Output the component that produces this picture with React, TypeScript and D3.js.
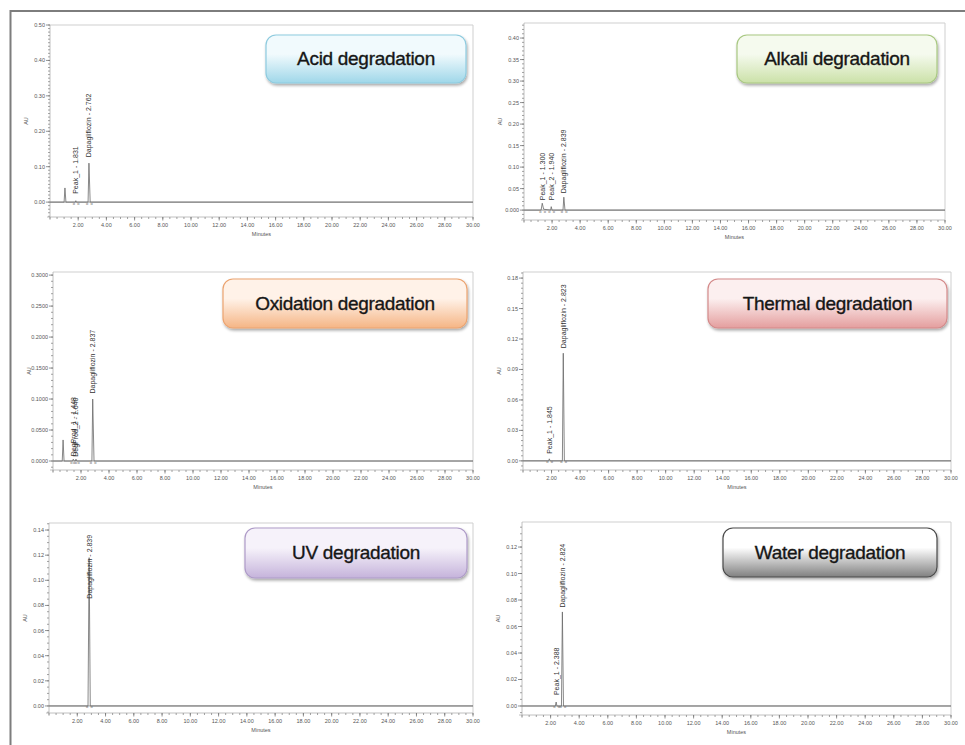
import React from "react";
import * as d3 from "d3";

// ---- Chromatogram data (time in minutes, response in AU) ----
const acidTrace: [number, number][] = [
  [0, 0], [1.0, 0], [1.06, 0.04], [1.13, 0], [1.80, 0], [1.831, 0.004], [1.87, 0],
  [2.70, 0], [2.762, 0.11], [2.85, 0], [30, 0],
];
const alkaliTrace: [number, number][] = [
  [0, 0], [1.22, 0], [1.30, 0.016], [1.40, 0.002], [1.90, 0], [1.94, 0.008], [2.0, 0],
  [2.78, 0], [2.839, 0.03], [2.92, 0], [30, 0],
];
const oxidationTrace: [number, number][] = [
  [0, 0], [0.66, 0], [0.72, 0.034], [0.79, 0], [1.40, 0], [1.448, 0.003], [1.52, 0],
  [1.60, 0], [1.64, 0.003], [1.70, 0], [2.78, 0], [2.837, 0.1], [2.93, 0], [30, 0],
];
const thermalTrace: [number, number][] = [
  [0, 0], [1.80, 0], [1.845, 0.002], [1.90, 0], [2.76, 0], [2.823, 0.106], [2.90, 0], [30, 0],
];
const uvTrace: [number, number][] = [
  [0, 0], [2.76, 0], [2.839, 0.118], [2.92, 0], [30, 0],
];
const waterTrace: [number, number][] = [
  [0, 0], [2.33, 0], [2.388, 0.003], [2.44, 0], [2.76, 0], [2.824, 0.071], [2.90, 0], [30, 0],
];

// Peak annotations: label, retention time, label base height (AU)
type Peak = { label: string; t: number; h: number };
const acidPeaks: Peak[] = [
  { label: "Peak_1 - 1.831", t: 1.831, h: 0.015 },
  { label: "Dapagliflozin - 2.762", t: 2.762, h: 0.118 },
];
const alkaliPeaks: Peak[] = [
  { label: "Peak_1 - 1.300", t: 1.3, h: 0.016 },
  { label: "Peak_2 - 1.940", t: 1.94, h: 0.016 },
  { label: "Dapagliflozin - 2.839", t: 2.839, h: 0.032 },
];
const oxidationPeaks: Peak[] = [
  { label: "DegProd_1 - 1.448", t: 1.448, h: 0.003 },
  { label: "DegProd_2 - 1.640", t: 1.64, h: 0.002 },
  { label: "Dapagliflozin - 2.837", t: 2.837, h: 0.104 },
];
const thermalPeaks: Peak[] = [
  { label: "Peak_1 - 1.845", t: 1.845, h: 0.004 },
  { label: "Dapagliflozin - 2.823", t: 2.823, h: 0.108 },
];
const uvPeaks: Peak[] = [
  { label: "Dapagliflozin - 2.839", t: 2.839, h: 0.083 },
];
const waterPeaks: Peak[] = [
  { label: "Peak_1 - 2.388", t: 2.388, h: 0.006 },
  { label: "Dapagliflozin - 2.824", t: 2.824, h: 0.072 },
];

// Axis ticks
const xTickValues = [2, 4, 6, 8, 10, 12, 14, 16, 18, 20, 22, 24, 26, 28, 30];
const acidYTicks = [0, 0.1, 0.2, 0.3, 0.4, 0.5];
const acidYLabels = ["0.00", "0.10", "0.20", "0.30", "0.40", "0.50"];
const alkaliYTicks = [0, 0.05, 0.1, 0.15, 0.2, 0.25, 0.3, 0.35, 0.4];
const alkaliYLabels = ["0.000", "0.05", "0.10", "0.15", "0.20", "0.25", "0.30", "0.35", "0.40"];
const oxidationYTicks = [0, 0.05, 0.1, 0.15, 0.2, 0.25, 0.3];
const oxidationYLabels = ["0.0000", "0.0500", "0.1000", "0.1500", "0.2000", "0.2500", "0.3000"];
const thermalYTicks = [0, 0.03, 0.06, 0.09, 0.12, 0.15, 0.18];
const thermalYLabels = ["0.00", "0.03", "0.06", "0.09", "0.12", "0.15", "0.18"];
const uvYTicks = [0, 0.02, 0.04, 0.06, 0.08, 0.1, 0.12, 0.14];
const uvYLabels = ["0.00", "0.02", "0.04", "0.06", "0.08", "0.10", "0.12", "0.14"];
const waterYTicks = [0, 0.02, 0.04, 0.06, 0.08, 0.1, 0.12];
const waterYLabels = ["0.00", "0.02", "0.04", "0.06", "0.08", "0.10", "0.12"];

const titles = [
  "Acid degradation",
  "Alkali degradation",
  "Oxidation degradation",
  "Thermal degradation",
  "UV degradation",
  "Water degradation",
];

// ---- Layout and styling ----
type Panel = {
  title: string;
  trace: [number, number][];
  peaks: Peak[];
  yTicks: number[];
  yLabels: string[];
  rect: { x: number; y: number; w: number; h: number };
  yDomain: [number, number];
  box: { x: number; y: number; w: number; h: number };
  colors: { top: string; bottom: string; stroke: string };
};

const panels: Panel[] = [
  {
    title: titles[0], trace: acidTrace, peaks: acidPeaks, yTicks: acidYTicks, yLabels: acidYLabels,
    rect: { x: 50, y: 25, w: 423, h: 192 }, yDomain: [-0.042, 0.5],
    box: { x: 266, y: 35, w: 200, h: 48 },
    colors: { top: "#f1fafd", bottom: "#9fd7e9", stroke: "#8ecbdf" },
  },
  {
    title: titles[1], trace: alkaliTrace, peaks: alkaliPeaks, yTicks: alkaliYTicks, yLabels: alkaliYLabels,
    rect: { x: 524, y: 23, w: 421, h: 197 }, yDomain: [-0.023, 0.435],
    box: { x: 737, y: 35, w: 200, h: 48 },
    colors: { top: "#f5faee", bottom: "#cbe1a8", stroke: "#a9c882" },
  },
  {
    title: titles[2], trace: oxidationTrace, peaks: oxidationPeaks, yTicks: oxidationYTicks, yLabels: oxidationYLabels,
    rect: { x: 53, y: 272, w: 420, h: 198 }, yDomain: [-0.0145, 0.305],
    box: { x: 223, y: 279, w: 244, h: 49 },
    colors: { top: "#fff2e8", bottom: "#f5b585", stroke: "#eca470" },
  },
  {
    title: titles[3], trace: thermalTrace, peaks: thermalPeaks, yTicks: thermalYTicks, yLabels: thermalYLabels,
    rect: { x: 523, y: 272, w: 428, h: 198 }, yDomain: [-0.009, 0.186],
    box: { x: 708, y: 279, w: 239, h: 49 },
    colors: { top: "#fcefef", bottom: "#e49e9e", stroke: "#d48a8a" },
  },
  {
    title: titles[4], trace: uvTrace, peaks: uvPeaks, yTicks: uvYTicks, yLabels: uvYLabels,
    rect: { x: 49, y: 523, w: 424, h: 190 }, yDomain: [-0.0056, 0.1456],
    box: { x: 245, y: 528, w: 222, h: 50 },
    colors: { top: "#f6f2fa", bottom: "#c5b3db", stroke: "#ae9bc8" },
  },
  {
    title: titles[5], trace: waterTrace, peaks: waterPeaks, yTicks: waterYTicks, yLabels: waterYLabels,
    rect: { x: 522, y: 522, w: 429, h: 193 }, yDomain: [-0.0068, 0.1389],
    box: { x: 723, y: 528, w: 214, h: 49 },
    colors: { top: "#ffffff", bottom: "#808080", stroke: "#4a4a4a" },
  },
];

const FONT = "'Liberation Sans', Arial, sans-serif";

function Chromatogram({ p, i }: { p: Panel; i: number }) {
  const { x, y, w, h } = p.rect;
  const xs = d3.scaleLinear().domain([0, 30]).range([x, x + w]);
  const ys = d3.scaleLinear().domain(p.yDomain).range([y + h, y]);
  const line = d3
    .line<[number, number]>()
    .x((d) => xs(d[0]))
    .y((d) => ys(d[1]));
  const xMinor = d3.range(0, 30.01, 0.5);
  const yMinor = ys.ticks(40);
  const gid = `legend-grad-${i}`;
  const fid = `legend-shadow-${i}`;
  const b = p.box;

  return (
    <g>
      <defs>
        <linearGradient id={gid} x1="0" y1="0" x2="0" y2="1">
          <stop offset="0" stopColor={p.colors.top} />
          <stop offset="0.4" stopColor={p.colors.top} />
          <stop offset="1" stopColor={p.colors.bottom} />
        </linearGradient>
        <filter id={fid} x="-10%" y="-20%" width="130%" height="160%">
          <feGaussianBlur in="SourceAlpha" stdDeviation="1.6" />
          <feOffset dx="1" dy="2" result="off" />
          <feComponentTransfer>
            <feFuncA type="linear" slope="0.35" />
          </feComponentTransfer>
          <feMerge>
            <feMergeNode />
            <feMergeNode in="SourceGraphic" />
          </feMerge>
        </filter>
      </defs>

      {/* plot frame: light top/right edges */}
      <path d={`M${x},${y}H${x + w}V${y + h}`} fill="none" stroke="#cfcfcf" strokeWidth={1} />
      {/* zero baseline */}
      <line x1={x} x2={x + w} y1={ys(0)} y2={ys(0)} stroke="#9a9a9a" strokeWidth={1} />

      {/* y axis */}
      <line x1={x} x2={x} y1={y} y2={y + h + 3} stroke="#b0b0b0" strokeWidth={0.8} />
      {yMinor.map((v, k) => (
        <line key={`ym${k}`} x1={x - 2} x2={x} y1={ys(v)} y2={ys(v)} stroke="#8a8a8a" strokeWidth={0.8} />
      ))}
      {p.yTicks.map((v, k) => (
        <g key={`yt${k}`}>
          <line x1={x - 4} x2={x} y1={ys(v)} y2={ys(v)} stroke="#777" strokeWidth={0.8} />
          <text x={x - 5} y={ys(v) + 2} fontSize={5.5} textAnchor="end" fill="#555" fontFamily={FONT}>
            {p.yLabels[k]}
          </text>
        </g>
      ))}
      <text
        transform={`translate(${x - 22},${y + h / 2}) rotate(-90)`}
        fontSize={5.5}
        textAnchor="middle"
        fill="#555"
        fontFamily={FONT}
      >
        AU
      </text>

      {/* x axis */}
      <line x1={x - 3} x2={x + w} y1={y + h} y2={y + h} stroke="#b0b0b0" strokeWidth={0.8} />
      {xMinor.map((v, k) => (
        <line key={`xm${k}`} x1={xs(v)} x2={xs(v)} y1={y + h} y2={y + h + 2} stroke="#8a8a8a" strokeWidth={0.8} />
      ))}
      {xTickValues.map((v, k) => (
        <g key={`xt${k}`}>
          <line x1={xs(v)} x2={xs(v)} y1={y + h} y2={y + h + 3.5} stroke="#777" strokeWidth={0.8} />
          <text x={xs(v)} y={y + h + 10} fontSize={5.5} textAnchor="middle" fill="#555" fontFamily={FONT}>
            {d3.format(".2f")(v)}
          </text>
        </g>
      ))}
      <text x={x + w / 2} y={y + h + 19} fontSize={5.5} textAnchor="middle" fill="#555" fontFamily={FONT}>
        Minutes
      </text>

      {/* signal trace */}
      <path d={line(p.trace) ?? ""} fill="none" stroke="#6a6a6a" strokeWidth={0.8} />

      {/* peak labels */}
      {p.peaks.map((pk, k) => (
        <g key={`pk${k}`}>
          <text
            transform={`translate(${xs(pk.t) + 2.5},${ys(pk.h) - 3}) rotate(-90)`}
            fontSize={7}
            fill="#333"
            fontFamily={FONT}
          >
            {pk.label}
          </text>
          <text x={xs(pk.t) - 3} y={ys(0) + 2.5} fontSize={4} fill="#666" fontFamily={FONT}>
            {"o"}
          </text>
          <text x={xs(pk.t) + 1.5} y={ys(0) + 2.5} fontSize={4} fill="#666" fontFamily={FONT}>
            {"o"}
          </text>
        </g>
      ))}

      {/* title badge */}
      <rect
        x={b.x}
        y={b.y}
        width={b.w}
        height={b.h}
        rx={10}
        fill={`url(#${gid})`}
        stroke={p.colors.stroke}
        strokeWidth={1.2}
        filter={`url(#${fid})`}
      />
      <text
        x={b.x + b.w / 2}
        y={b.y + b.h / 2 + 6}
        fontSize={19}
        textAnchor="middle"
        fill="#161616"
        fontFamily={FONT}
        stroke="#161616"
        strokeWidth={0.35}
        letterSpacing={-0.3}
      >
        {p.title}
      </text>
    </g>
  );
}

export default function App() {
  return (
    <svg
      width={965}
      height={745}
      viewBox="0 0 965 745"
      style={{ position: "absolute", left: 0, top: 0, background: "#fff" }}
    >
      <rect x={0} y={0} width={965} height={745} fill="#fff" />
      {/* outer frame */}
      <path d="M965,11H10.5V745" fill="none" stroke="#7d7d7d" strokeWidth={2} />
      {panels.map((p, i) => (
        <Chromatogram key={i} p={p} i={i} />
      ))}
    </svg>
  );
}
